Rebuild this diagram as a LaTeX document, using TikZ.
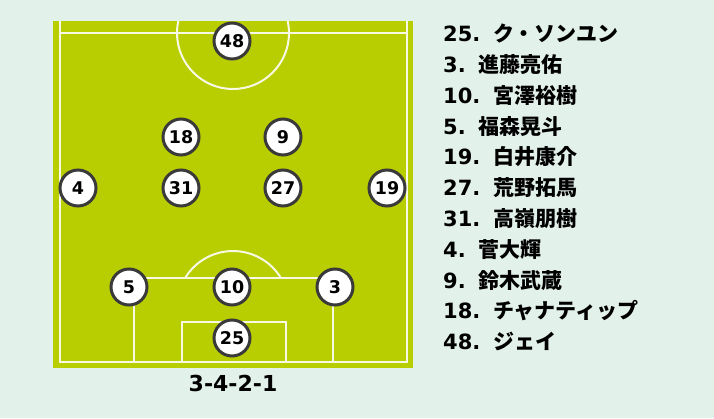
\documentclass[tikz,border=0pt]{standalone}
\usepackage{fontspec}
\setmainfont{DejaVu Sans}
\newfontfamily\jp{Noto Sans CJK JP}
\usepackage{tikz}

\definecolor{bgmint}{HTML}{E2F1EA}
\definecolor{turf}{HTML}{B9CE00}
\definecolor{chalk}{HTML}{F7F9E4}
\definecolor{rim}{HTML}{3A3A3A}

\newcommand\rosterline[2]{#1. \hspace{3pt}{\jp #2}}

\tikzset{
  player/.style={circle, draw=rim, fill=white, line width=3pt, minimum size=36pt,
    inner sep=0pt, font=\fontsize{17.5}{17.5}\selectfont\bfseries},
  roster/.style={anchor=base west, inner sep=0pt, font=\fontsize{21}{21}\selectfont\bfseries},
  mark line/.style={draw=chalk, line width=2pt}
}

\begin{document}
\begin{tikzpicture}[x=1pt, y=-1pt]
  \useasboundingbox[fill=bgmint] (0,0) rectangle (714,418);
  % pitch
  \fill[turf] (53,21) rectangle (413,368);
  \begin{scope}
    \clip (53,21) rectangle (413,368);
    \draw[mark line] (60,10) -- (60,362) -- (407,362) -- (407,10);
    \draw[mark line] (60,33) -- (407,33);
    \draw[mark line] (233,33) circle[radius=56];
    \draw[mark line] (134,362) -- (134,278) -- (333,278) -- (333,362);
    \draw[mark line] (182,362) -- (182,322) -- (286,322) -- (286,362);
    \draw[mark line] (233,307) ++(211.2:56) arc[start angle=211.2, end angle=328.8, radius=56];
  \end{scope}

  % players
  \node[player] (p48) at (232,41) {48};
  \node[player] (p18) at (181,137) {18};
  \node[player] (p9) at (283,137) {9};
  \node[player] (p4) at (78,188) {4};
  \node[player] (p31) at (181,188) {31};
  \node[player] (p27) at (283,188) {27};
  \node[player] (p19) at (387,188) {19};
  \node[player] (p5) at (129,287) {5};
  \node[player] (p10) at (232,287) {10};
  \node[player] (p3) at (335,287) {3};
  \node[player] (p25) at (232,338) {25};

  \node[font=\fontsize{22}{22}\selectfont\bfseries] (shape) at (233,383) {3-4-2-1};

  % names
  \node[roster] (n25) at (443,41.7) {\rosterline{25}{ク・ソンユン}};
  \node[roster] (n3) at (443,72.5) {\rosterline{3}{進藤亮佑}};
  \node[roster] (n10) at (443,103.3) {\rosterline{10}{宮澤裕樹}};
  \node[roster] (n5) at (443,134.1) {\rosterline{5}{福森晃斗}};
  \node[roster] (n19) at (443,164.9) {\rosterline{19}{白井康介}};
  \node[roster] (n27) at (443,195.7) {\rosterline{27}{荒野拓馬}};
  \node[roster] (n31) at (443,226.5) {\rosterline{31}{高嶺朋樹}};
  \node[roster] (n4) at (443,257.3) {\rosterline{4}{菅大輝}};
  \node[roster] (n9) at (443,288.1) {\rosterline{9}{鈴木武蔵}};
  \node[roster] (n18) at (443,318.9) {\rosterline{18}{チャナティップ}};
  \node[roster] (n48) at (443,349.7) {\rosterline{48}{ジェイ}};
\end{tikzpicture}
\end{document}
